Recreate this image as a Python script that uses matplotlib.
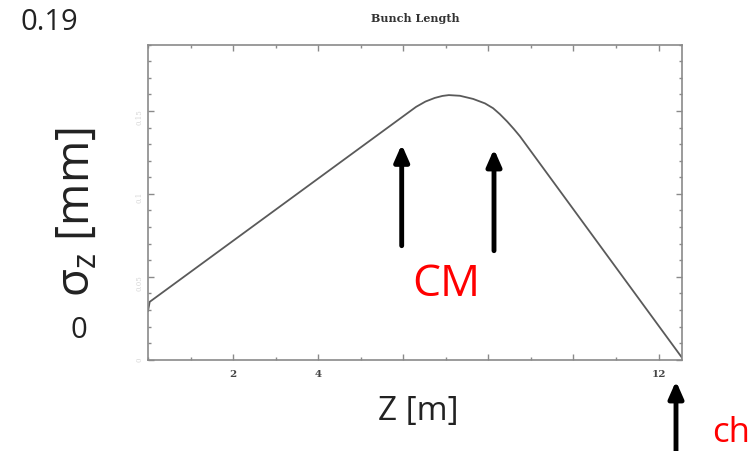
import matplotlib
matplotlib.use("Agg")
import matplotlib.pyplot as plt
from matplotlib.ticker import MultipleLocator, FixedLocator, FixedFormatter

plt.rcParams['mathtext.fontset'] = 'custom'
plt.rcParams['mathtext.rm'] = 'Open Sans'
plt.rcParams['mathtext.it'] = 'Open Sans'

# bunch length along the line
z_m = [0.0, 0.04, 6.30, 6.52, 6.74, 6.92, 7.07, 7.33, 7.64, 7.92, 8.11, 8.27,
       8.44, 8.60, 8.74, 12.55]
sigma_mm = [0.0294, 0.0349, 0.1525, 0.1557, 0.1579, 0.1591, 0.1596, 0.1592,
            0.1573, 0.1546, 0.1517, 0.1481, 0.1437, 0.1391, 0.1348, 0.0012]

x_ticks = [2, 4, 6, 8, 10, 12]
x_tick_labels = ["2", "4", "", "", "", "12"]
y_ticks = [0.0, 0.05, 0.10, 0.15]
y_tick_labels = ["0", "0.05", "0.1", "0.15"]

W, H = 756, 452
fig = plt.figure(figsize=(W / 100, H / 100), dpi=100)


def fx(px):
    return px / W


def fy(py):
    return 1 - py / H


ax = fig.add_axes([fx(148), fy(360.7), fx(682) - fx(148), fy(45.7) - fy(360.7)])
ax.plot(z_m, sigma_mm, color='#5a5a5a', lw=1.3)
ax.set_xlim(0, 12.55)
ax.set_ylim(0, 0.19)

spine_col = '#8a8a8a'
for s in ax.spines.values():
    s.set_color(spine_col)
    s.set_linewidth(1.2)

ax.xaxis.set_major_locator(FixedLocator(x_ticks))
ax.xaxis.set_major_formatter(FixedFormatter(x_tick_labels))
ax.xaxis.set_minor_locator(MultipleLocator(1))
ax.yaxis.set_major_locator(FixedLocator(y_ticks))
ax.yaxis.set_major_formatter(FixedFormatter(y_tick_labels))
ax.yaxis.set_minor_locator(MultipleLocator(0.01))

ax.tick_params(which='both', direction='in', top=True, right=True,
               color=spine_col, width=1.0)
ax.tick_params(which='major', length=4.5)
ax.tick_params(which='minor', length=2.5)
ax.tick_params(axis='x', which='major', pad=7, labelsize=7.5, labelcolor='#444444')
for lab in ax.get_xticklabels():
    lab.set_fontfamily('DejaVu Serif')
    lab.set_fontweight('bold')
ax.tick_params(axis='y', which='major', pad=3, labelsize=5, labelcolor='#d6d6d6')
for lab in ax.get_yticklabels():
    lab.set_rotation(90)
    lab.set_fontfamily('DejaVu Serif')

fig.text(fx(415), fy(19), "Bunch Length", family='DejaVu Serif', weight='bold',
         size=8, ha='center', va='center', color='#333333')

sans = 'Open Sans'
fig.text(fx(20), fy(22), "0.19", family=sans, size=21, ha='left', va='center',
         color='#222222')
fig.text(fx(79), fy(331), "0", family=sans, size=21, ha='center', va='center',
         color='#222222')
fig.text(fx(77), fy(212), r"σ$_{\mathrm{z}}$ [mm]", family=sans, size=33,
         rotation=90, ha='center', va='center', color='#222222')
fig.text(fx(418), fy(412), "Z [m]", family=sans, size=24, ha='center',
         va='center', color='#222222')
fig.text(fx(446.5), fy(296), "CM", family=sans, size=32, ha='center',
         va='baseline', color='#ff0000')
fig.text(fx(712), fy(441.7), "ch", family=sans, size=25, ha='left',
         va='baseline', color='#ff0000')

arrow_style = dict(arrowstyle='-|>,head_width=0.22,head_length=0.5', lw=3.5,
                   color='black', mutation_scale=20, shrinkA=0, shrinkB=2)
for x, y_tip, y_tail in [(401.7, 142.7, 246.7), (494, 147.3, 251.7),
                         (676, 379.3, 460)]:
    fig.add_artist(matplotlib.patches.FancyArrowPatch(
        (fx(x), fy(y_tail)), (fx(x), fy(y_tip)),
        transform=fig.transFigure, **arrow_style))

fig.savefig("out.png", dpi=100)
